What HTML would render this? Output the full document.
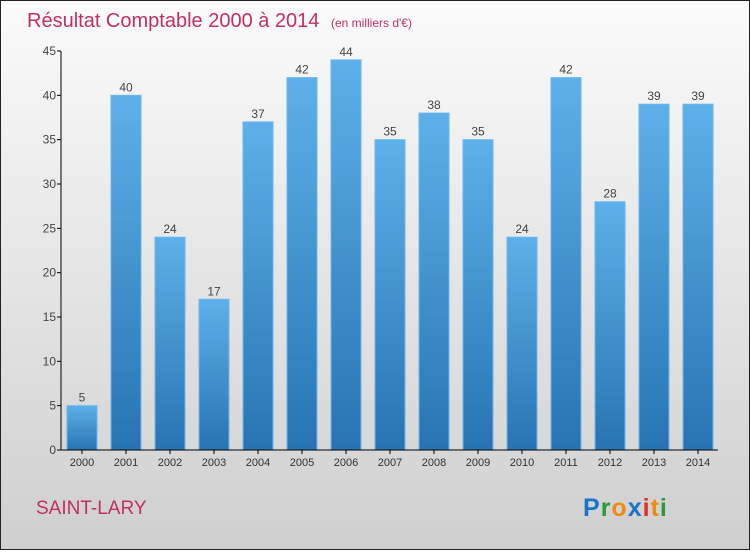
<!DOCTYPE html>
<html><head><meta charset="utf-8"><style>
body{margin:0;width:750px;height:550px;overflow:hidden;font-family:"Liberation Sans","DejaVu Sans",sans-serif}
</style></head><body>
<svg id="c" width="750" height="550" xmlns="http://www.w3.org/2000/svg">
<defs>
<linearGradient id="bg" x1="0" y1="0" x2="0" y2="1"><stop offset="0" stop-color="#fbfbfb"/><stop offset="1" stop-color="#cfcfcf"/></linearGradient>
<linearGradient id="bar" x1="0" y1="0" x2="0" y2="1"><stop offset="0" stop-color="#5db0ea"/><stop offset="1" stop-color="#2874b2"/></linearGradient>
</defs>
<rect x="0.5" y="0.5" width="749" height="549" fill="url(#bg)" stroke="#222"/>
<text x="27" y="27" font-size="20" fill="#c2305e">Résultat Comptable 2000 à 2014 <tspan font-size="12" dx="6">(en milliers d'€)</tspan></text>
<text x="36" y="514" font-size="19" fill="#c2305e">SAINT-LARY</text>
<text x="583" y="516" font-size="25" font-weight="bold" letter-spacing="1"><tspan fill="#1a74c9">P</tspan><tspan fill="#2a9a3a">r</tspan><tspan fill="#f08a10">o</tspan><tspan fill="#1a74c9">x</tspan><tspan fill="#e03020">i</tspan><tspan fill="#f08a10">t</tspan><tspan fill="#2a9a3a">i</tspan></text>
<g id="plot"></g>
</svg>
<script>
const categories=["2000","2001","2002","2003","2004","2005","2006","2007","2008","2009","2010","2011","2012","2013","2014"];
const values=[5,40,24,17,37,42,44,35,38,35,24,42,28,39,39];
const yTicks=[0,5,10,15,20,25,30,35,40,45];
const NS="http://www.w3.org/2000/svg";
const g=document.getElementById('plot');
const x0=61,x1=718,y0=450,yTop=51,yMax=45;
const y=v=>y0-(v/yMax)*(y0-yTop);
const xc=i=>82+44*i;
function el(t,a,txt){const e=document.createElementNS(NS,t);for(const k in a)e.setAttribute(k,a[k]);if(txt!==undefined)e.textContent=txt;g.appendChild(e);return e;}
categories.forEach((c,i)=>{
 const r=el('rect',{x:xc(i)-15,y:y(values[i]),width:30,height:y0-y(values[i]),fill:'url(#bar)',stroke:'#6bb8ee','stroke-width':1});
 
 
 const l=el('text',{x:xc(i),y:y(values[i])-4,'font-size':12,fill:'#444','text-anchor':'middle'},values[i]);
 
 
 const t=el('text',{x:xc(i),y:466,'font-size':11,fill:'#333','text-anchor':'middle'},c);
 
 
 el('line',{x1:xc(i),x2:xc(i),y1:y0,y2:y0+4,stroke:'#000'});
});
yTicks.forEach(v=>{
 el('line',{x1:x0-4,x2:x0,y1:y(v),y2:y(v),stroke:'#000'});
 const t=el('text',{x:x0-5,y:y(v)+4,'font-size':12,fill:'#444','text-anchor':'end'},v);
 
 
});
const ya=el('line',{x1:x0,x2:x0,y1:yTop,y2:y0,stroke:'#000'});


const xa=el('line',{x1:x0,x2:x1,y1:y0,y2:y0,stroke:'#000'});


</script>
</body></html>
